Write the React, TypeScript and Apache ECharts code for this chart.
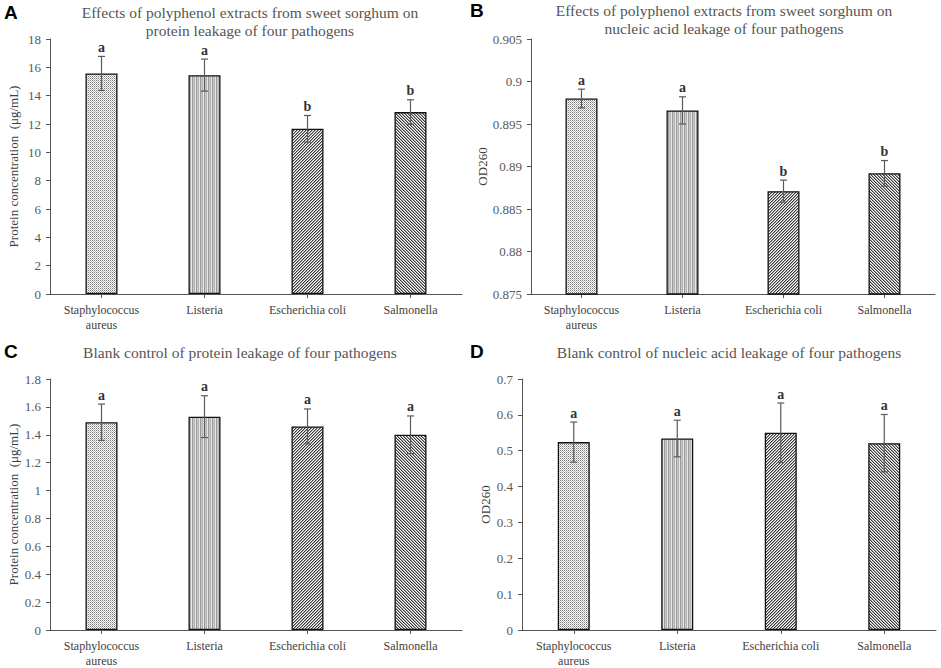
import React, { useEffect, useRef } from 'react';
import * as echarts from 'echarts';

const categories = ['Staphylococcus\naureus', 'Listeria', 'Escherichia coli', 'Salmonella'];

const proteinValues = [15.57, 15.45, 11.66, 12.84];
const proteinErrors = [1.2, 1.13, 0.94, 0.87];
const proteinLetters = ['a', 'a', 'b', 'b'];

const nucleicValues = [0.898, 0.8966, 0.8871, 0.8892];
const nucleicErrors = [0.0011, 0.0016, 0.0013, 0.0015];
const nucleicLetters = ['a', 'a', 'b', 'b'];

const blankProteinValues = [1.49, 1.53, 1.46, 1.4];
const blankProteinErrors = [0.13, 0.15, 0.125, 0.135];
const blankProteinLetters = ['a', 'a', 'a', 'a'];

const blankNucleicValues = [0.524, 0.534, 0.55, 0.521];
const blankNucleicErrors = [0.056, 0.051, 0.083, 0.08];
const blankNucleicLetters = ['a', 'a', 'a', 'a'];

const titleA = 'Effects of polyphenol extracts from sweet sorghum on\nprotein leakage of four pathogens';
const titleB = 'Effects of polyphenol extracts from sweet sorghum on\nnucleic acid leakage of four pathogens';
const titleC = 'Blank control of protein leakage of four pathogens';
const titleD = 'Blank control of nucleic acid leakage of four pathogens';
const yNameProtein = 'Protein concentration  (μg/mL)';
const yNameOD = 'OD260';

const SERIF = '"Liberation Serif", "Times New Roman", serif';

function makeTile(kind: number): HTMLCanvasElement {
  const n = kind >= 2 ? 3 : 4;
  const c = document.createElement('canvas');
  c.width = n;
  c.height = n;
  const ctx = c.getContext('2d')!;
  ctx.fillStyle = '#ffffff';
  ctx.fillRect(0, 0, n, n);
  for (let x = 0; x < n; x++) {
    for (let y = 0; y < n; y++) {
      let col: string | null = null;
      if (kind === 0) {
        if ((x + y) % 2 === 0) col = (x % 2 === 0) ? '#7a7a7a' : '#b8b8b8';
      } else if (kind === 1) {
        const cols = ['#9a9a9a', '#d6d6d6', '#b2b2b2', '#e8e8e8'];
        col = cols[x];
        if (y % 2 === 1 && x === 1) col = '#bdbdbd';
      } else if (kind === 2) {
        const m = (x + y) % 3;
        if (m === 0) col = '#3c3c3c';
        else if (m === 1) col = '#a0a0a0';
      } else {
        const m = (x - y + 6) % 3;
        if (m === 0) col = '#3c3c3c';
        else if (m === 1) col = '#a0a0a0';
      }
      if (col) {
        ctx.fillStyle = col;
        ctx.fillRect(x, y, 1, 1);
      }
    }
  }
  return c;
}

export default function App() {
  const ref = useRef<HTMLDivElement>(null);

  useEffect(() => {
    document.body.style.margin = '0';
    if (!ref.current) return;
    const chart = echarts.init(ref.current, null, { renderer: 'svg' });

    const patterns = [0, 1, 2, 3].map((k) => ({ image: makeTile(k), repeat: 'repeat' }));

    const panels = [
      { values: proteinValues, errors: proteinErrors, letters: proteinLetters, min: 0, max: 18, interval: 2, yName: yNameProtein, nameGap: 30,
        grid: { left: 50, top: 39, width: 412, height: 255 } },
      { values: nucleicValues, errors: nucleicErrors, letters: nucleicLetters, min: 0.875, max: 0.905, interval: 0.005, yName: yNameOD, nameGap: 41,
        grid: { left: 531, top: 39, width: 404, height: 255 } },
      { values: blankProteinValues, errors: blankProteinErrors, letters: blankProteinLetters, min: 0, max: 1.8, interval: 0.2, yName: yNameProtein, nameGap: 30,
        grid: { left: 50, top: 379, width: 412, height: 254 } },
      { values: blankNucleicValues, errors: blankNucleicErrors, letters: blankNucleicLetters, min: 0, max: 0.7, interval: 0.1, yName: yNameOD, nameGap: 30,
        grid: { left: 522, top: 379, width: 414, height: 254 } },
    ];

    const grids = panels.map((p) => p.grid);
    const xAxes = panels.map((p, i) => ({
      type: 'category',
      gridIndex: i,
      data: categories,
      axisLine: { show: true, lineStyle: { color: '#555555', width: 1 } },
      axisTick: { show: true, alignWithLabel: true, length: 4, lineStyle: { color: '#555555' } },
      axisLabel: { fontFamily: SERIF, fontSize: 12, color: '#404040', margin: 8, lineHeight: 15, interval: 0 },
      splitLine: { show: false },
    }));
    const yAxes = panels.map((p, i) => ({
      type: 'value',
      gridIndex: i,
      min: p.min,
      max: p.max,
      interval: p.interval,
      name: p.yName,
      nameLocation: 'middle',
      nameGap: p.nameGap,
      nameTextStyle: { fontFamily: SERIF, fontSize: 13, color: '#404040' },
      axisLine: { show: true, lineStyle: { color: '#555555', width: 1 } },
      axisTick: { show: true, length: 4, lineStyle: { color: '#555555' } },
      axisLabel: { fontFamily: SERIF, fontSize: 13, color: '#595959', margin: 9 },
      splitLine: { show: false },
    }));

    const series: any[] = [];
    panels.forEach((p, i) => {
      series.push({
        type: 'bar',
        xAxisIndex: i,
        yAxisIndex: i,
        barWidth: 32,
        data: p.values.map((v, k) => ({
          value: v,
          itemStyle: { color: patterns[k], borderColor: '#111111', borderWidth: 1.3 },
        })),
      });
      series.push({
        type: 'custom',
        xAxisIndex: i,
        yAxisIndex: i,
        z: 5,
        clip: false,
        data: p.values.map((v, k) => [k, v, p.errors[k]]),
        renderItem: (params: any, api: any) => {
          const idx = api.value(0);
          const val = api.value(1);
          const err = api.value(2);
          const top = api.coord([idx, val + err]);
          const bot = api.coord([idx, val - err]);
          const hw = 3.5;
          const stroke = { stroke: '#5a5a5a', lineWidth: 1.2 };
          return {
            type: 'group',
            children: [
              { type: 'line', shape: { x1: top[0], y1: top[1], x2: bot[0], y2: bot[1] }, style: stroke },
              { type: 'line', shape: { x1: top[0] - hw, y1: top[1], x2: top[0] + hw, y2: top[1] }, style: stroke },
              { type: 'line', shape: { x1: bot[0] - hw, y1: bot[1], x2: bot[0] + hw, y2: bot[1] }, style: stroke },
              {
                type: 'text',
                x: top[0],
                y: top[1] - 9,
                style: {
                  text: p.letters[params.dataIndex],
                  fontFamily: SERIF,
                  fontSize: 14,
                  fontWeight: 'bold',
                  fill: '#333333',
                  align: 'center',
                  verticalAlign: 'middle',
                },
              },
            ],
          };
        },
      });
    });

    const titleStyle = (text: string) => ({
      text,
      fontFamily: SERIF,
      fontSize: 15.5,
      fill: '#555555',
      align: 'center',
      verticalAlign: 'top',
      lineHeight: 18,
    });
    const letterStyle = (text: string) => ({
      text,
      fontFamily: '"Liberation Sans", Arial, sans-serif',
      fontSize: 19,
      fontWeight: 'bold',
      fill: '#000000',
      align: 'left',
      verticalAlign: 'top',
    });

    chart.setOption({
      animation: false,
      backgroundColor: '#ffffff',
      grid: grids,
      xAxis: xAxes,
      yAxis: yAxes,
      series,
      graphic: [
        { type: 'text', x: 250, y: 3, style: titleStyle(titleA) },
        { type: 'text', x: 724, y: 1, style: titleStyle(titleB) },
        { type: 'text', x: 240, y: 343, style: titleStyle(titleC) },
        { type: 'text', x: 729, y: 343, style: titleStyle(titleD) },
        { type: 'text', x: 4, y: 3, style: letterStyle('A') },
        { type: 'text', x: 470, y: 1, style: letterStyle('B') },
        { type: 'text', x: 4, y: 342, style: letterStyle('C') },
        { type: 'text', x: 470, y: 342, style: letterStyle('D') },
      ],
    });

    return () => chart.dispose();
  }, []);

  return <div ref={ref} style={{ width: 941, height: 668 }} />;
}
